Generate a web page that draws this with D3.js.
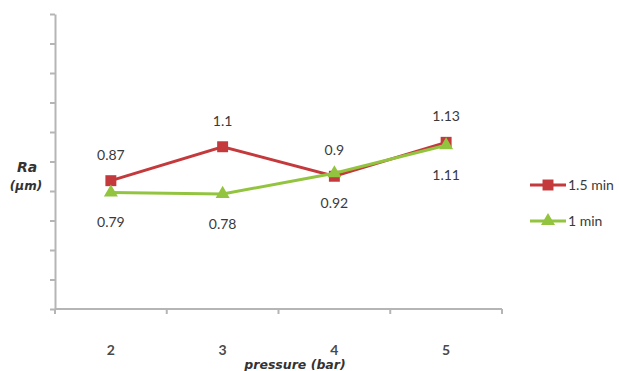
<!DOCTYPE html>
<html>
<head>
<meta charset="utf-8">
<script src="https://cdn.jsdelivr.net/npm/d3@7"></script>
<style>
  html, body { margin: 0; padding: 0; background: #fff; }
  svg { display: block; }
</style>
</head>
<body>
<svg id="chart" width="619" height="371"></svg>
<script>
const categories = ["2", "3", "4", "5"];
const series15 = [0.87, 1.1, 0.9, 1.13];
const series1 = [0.79, 0.78, 0.92, 1.11];
const seriesNames = ["1.5 min", "1 min"];
const yTicks = [0, 0.2, 0.4, 0.6, 0.8, 1.0, 1.2, 1.4, 1.6, 1.8, 2.0];

const svg = d3.select("#chart");
const axisColor = "#b5b5b5";
const red = "#c4393c";
const green = "#93c43f";
const textColor = "#3a3a3a";
const numFont = "Lato, 'Open Sans', sans-serif";

const x = d3.scaleBand().domain(categories).range([55, 502]).paddingInner(0).paddingOuter(0);
const y = d3.scaleLinear().domain([0, 2]).range([309, 14]);
const cx = c => x(c) + x.bandwidth() / 2;

// Y axis
const yAxis = svg.append("g")
  .attr("transform", "translate(55,0)")
  .call(d3.axisLeft(y).tickValues(yTicks).tickSize(5).tickSizeOuter(0).tickFormat(""));
yAxis.select(".domain").attr("stroke", axisColor).attr("stroke-width", 2);
yAxis.selectAll(".tick line").attr("stroke", axisColor).attr("stroke-width", 2);

// X axis line + ticks at band edges
const xAxis = svg.append("g")
  .attr("transform", "translate(0,309)")
  .call(d3.axisBottom(x).tickSize(0).tickPadding(0));
xAxis.select(".domain").attr("stroke", axisColor).attr("stroke-width", 2).attr("d", `M55,0H502`);
xAxis.selectAll(".tick text")
  .attr("y", 36)
  .attr("font-family", numFont)
  .attr("font-size", 14)
  .attr("font-weight", "bold")
  .attr("fill", "#4a4a4a");
const edges = categories.map(c => x(c)).concat([x(categories[categories.length - 1]) + x.bandwidth()]);
svg.append("g").selectAll("line").data(edges).join("line")
  .attr("x1", d => d).attr("x2", d => d)
  .attr("y1", 309).attr("y2", 314)
  .attr("stroke", axisColor).attr("stroke-width", 2);

// Axis titles
svg.append("text").attr("x", 27).attr("y", 172)
  .attr("text-anchor", "middle")
  .attr("font-family", "'DejaVu Sans', sans-serif")
  .attr("font-size", 14).attr("font-weight", "bold").attr("font-style", "italic")
  .attr("fill", "#333").text("Ra");
svg.append("text").attr("x", 26).attr("y", 190)
  .attr("text-anchor", "middle")
  .attr("font-family", "'DejaVu Sans', sans-serif")
  .attr("font-size", 12).attr("font-weight", "bold").attr("font-style", "italic")
  .attr("fill", "#333").text("(μm)");
svg.append("text").attr("x", 295).attr("y", 369)
  .attr("text-anchor", "middle")
  .attr("font-family", "'DejaVu Sans', sans-serif")
  .attr("font-size", 12.5).attr("font-weight", "bold").attr("font-style", "italic")
  .attr("fill", "#333").text("pressure (bar)");

const line = d3.line().x((d, i) => cx(categories[i])).y(d => y(d));
const sq = d3.symbol().type(d3.symbolSquare).size(120);
const tri = d3.symbol().type(d3.symbolTriangle).size(85);

// Red series
svg.append("path").datum(series15)
  .attr("d", line).attr("fill", "none").attr("stroke", red).attr("stroke-width", 3);
svg.append("g").selectAll("path").data(series15).join("path")
  .attr("d", sq)
  .attr("transform", (d, i) => `translate(${cx(categories[i])},${y(d)})`)
  .attr("fill", red);

// Green series
svg.append("path").datum(series1)
  .attr("d", line).attr("fill", "none").attr("stroke", green).attr("stroke-width", 3);
svg.append("g").selectAll("path").data(series1).join("path")
  .attr("d", tri)
  .attr("transform", (d, i) => `translate(${cx(categories[i])},${y(d)})`)
  .attr("fill", green);

// Data labels
svg.append("g").selectAll("text").data(series15).join("text")
  .attr("x", (d, i) => cx(categories[i]))
  .attr("y", d => y(d) - 21)
  .attr("text-anchor", "middle")
  .attr("font-family", numFont).attr("font-size", 14)
  .attr("fill", textColor)
  .text(d => String(d));
svg.append("g").selectAll("text").data(series1).join("text")
  .attr("x", (d, i) => cx(categories[i]))
  .attr("y", d => y(d) + 35)
  .attr("text-anchor", "middle")
  .attr("font-family", numFont).attr("font-size", 14)
  .attr("fill", textColor)
  .text(d => String(d));

// Legend
const legend = svg.append("g");
const legendItems = [
  { name: seriesNames[0], color: red, sym: sq, y: 185 },
  { name: seriesNames[1], color: green, sym: tri, y: 221 }
];
legendItems.forEach(it => {
  legend.append("line").attr("x1", 530).attr("x2", 566).attr("y1", it.y).attr("y2", it.y)
    .attr("stroke", it.color).attr("stroke-width", 3);
  legend.append("path").attr("d", it.sym).attr("transform", `translate(548,${it.y})`).attr("fill", it.color);
  legend.append("text").attr("x", 568).attr("y", it.y + 5)
    .attr("font-family", numFont).attr("font-size", 14)
    .attr("fill", textColor).text(it.name);
});
</script>
</body>
</html>
